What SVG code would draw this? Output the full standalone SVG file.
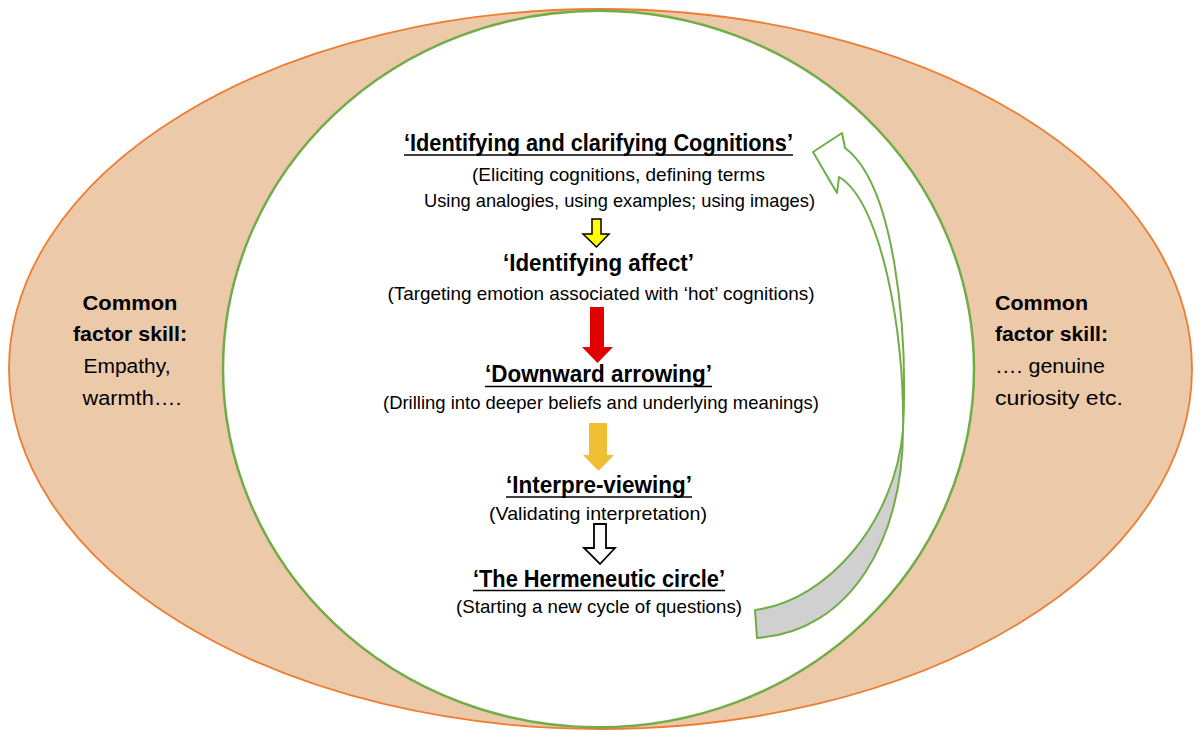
<svg xmlns="http://www.w3.org/2000/svg" width="1199" height="731" viewBox="0 0 1199 731">
<style>
text{font-family:"Liberation Sans",Arial,sans-serif;fill:#000}
.h{font-weight:bold;font-size:24px;text-anchor:middle}
.b{font-size:19px;text-anchor:middle}
.sb{font-weight:bold;font-size:20.5px}
.sr{font-size:20.5px}
.ul{stroke:#000;stroke-width:1.5}
.green{stroke:#70AD47;stroke-width:2;stroke-linejoin:round}
</style>
<rect width="1199" height="731" fill="#fff"/>
<g id="outer"><ellipse cx="600.5" cy="369" rx="591.5" ry="360" fill="#EBC9A9" stroke="#ED7D31" stroke-width="1.8"/></g>
<g id="inner"><ellipse cx="598.5" cy="369" rx="375.5" ry="358.3" fill="#fff" stroke="#70AD47" stroke-width="2.5"/></g>
<g id="left-text">
<text class="sb" x="130" y="310" text-anchor="middle" textLength="95" lengthAdjust="spacingAndGlyphs">Common</text>
<text class="sb" x="130" y="341" text-anchor="middle" textLength="114" lengthAdjust="spacingAndGlyphs">factor skill:</text>
<text class="sr" x="127" y="373" text-anchor="middle" textLength="87" lengthAdjust="spacingAndGlyphs">Empathy,</text>
<text class="sr" x="132" y="405" text-anchor="middle" textLength="99" lengthAdjust="spacingAndGlyphs">warmth….</text>
</g>
<g id="right-text">
<text class="sb" x="995" y="310" textLength="93" lengthAdjust="spacingAndGlyphs">Common</text>
<text class="sb" x="995" y="341" textLength="113" lengthAdjust="spacingAndGlyphs">factor skill:</text>
<text class="sr" x="995" y="373" textLength="110" lengthAdjust="spacingAndGlyphs">…. genuine</text>
<text class="sr" x="995" y="405" textLength="128" lengthAdjust="spacingAndGlyphs">curiosity etc.</text>
</g>
<g id="step1">
<text class="h" x="598.5" y="151" textLength="389" lengthAdjust="spacingAndGlyphs">‘Identifying and clarifying Cognitions’</text>
<line class="ul" x1="404" y1="155" x2="793" y2="155"/>
<text class="b" x="618.5" y="181" textLength="293" lengthAdjust="spacingAndGlyphs">(Eliciting cognitions, defining terms</text>
<text class="b" x="619.5" y="207" textLength="391" lengthAdjust="spacingAndGlyphs">Using analogies, using examples; using images)</text>
</g>
<g id="step2">
<text class="h" x="598.5" y="271" textLength="191" lengthAdjust="spacingAndGlyphs">‘Identifying affect’</text>
<text class="b" x="601" y="300" textLength="427" lengthAdjust="spacingAndGlyphs">(Targeting emotion associated with ‘hot’ cognitions)</text>
</g>
<g id="step3">
<text class="h" x="598.5" y="382" textLength="227" lengthAdjust="spacingAndGlyphs">‘Downward arrowing’</text>
<line class="ul" x1="485" y1="386.5" x2="712" y2="386.5"/>
<text class="b" x="601" y="409" textLength="436" lengthAdjust="spacingAndGlyphs">(Drilling into deeper beliefs and underlying meanings)</text>
</g>
<g id="step4">
<text class="h" x="599" y="493" textLength="186" lengthAdjust="spacingAndGlyphs">‘Interpre-viewing’</text>
<line class="ul" x1="506" y1="497" x2="692" y2="497"/>
<text class="b" x="598" y="520" textLength="218" lengthAdjust="spacingAndGlyphs">(Validating interpretation)</text>
</g>
<g id="step5">
<text class="h" x="599" y="587" textLength="252" lengthAdjust="spacingAndGlyphs">‘The Hermeneutic circle’</text>
<line class="ul" x1="473" y1="590.5" x2="725" y2="590.5"/>
<text class="b" x="599" y="613" textLength="286" lengthAdjust="spacingAndGlyphs">(Starting a new cycle of questions)</text>
</g>
<g id="connectors">
<path d="M592,219 H601 V234 H609 L596.5,247 L583,234 H592 Z" fill="#FFFF00" stroke="#000" stroke-width="1.5" stroke-linejoin="miter"/>
<path d="M590,307 H604 V347 H613 L597.5,363 L582,347 H590 Z" fill="#E00000"/>
<path d="M589,423 H607 V455 H614 L598.5,471 L583,455 H589 Z" fill="#F0BE32"/>
<path d="M594,524 H606 V548 H615 L600,564 L584,548 H594 Z" fill="#fff" stroke="#000" stroke-width="1.8"/>
<path class="green" d="M755,610 C830,600 895,520 903,430 C903,540 850,632 757,638 Z" fill="#D0D0D0"/>
<path class="green" d="M903,430 C908,330 895,185 845,148 L842,133 L813,152 L837,193 L839,177 C880,200 905,330 903,430 Z" fill="#fff"/>
</g>
</svg>
